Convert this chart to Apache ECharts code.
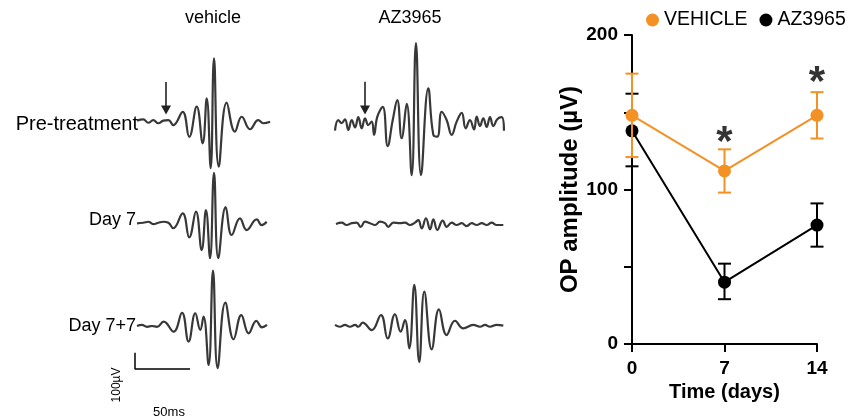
<!DOCTYPE html>
<html><head><meta charset="utf-8">
<script src="https://cdn.jsdelivr.net/npm/echarts@6/dist/echarts.min.js"></script>
<style>html,body{margin:0;padding:0;background:#fff}#c{width:848px;height:418px}</style>
</head><body><div id="c"></div>
<script>
// ---- Right panel data (OP amplitude, µV) ----
const days = [0, 7, 14];
const vehicleMean = [148, 112, 148];
const vehicleErrLow = [121, 98, 133];
const vehicleErrHigh = [175, 126, 163];
const azMean = [138, 40, 77];
const azErrLow = [115, 29, 63];
const azErrHigh = [162, 52, 91];
const sigMarks = [[7, 135], [14, 174]];
const yLabelValues = [0, 100, 200];

// ---- Left panel: OP waveform extremes, [time ms, amplitude µV] ----
const vehPre = [[0,4],[5.7,9],[10.3,-4],[14.8,6],[19.4,-6],[23.9,4],[28.5,6],[33,-13],[41.5,38],[47.5,-58],[54.3,58],[59.7,-83],[63.4,90],[67,-179],[70,244],[74.3,-173],[81.5,73],[89,-38],[95.2,19],[102.7,-29],[110.3,6],[114.8,-6],[121,0]];
const vehD7 = [[0,0],[5.7,2],[10.3,6],[14.8,-3],[19.4,2],[23.9,6],[28.5,2],[33,-19],[41.5,38],[47.5,-54],[53.6,45],[58.8,-103],[62.7,51],[66.4,-134],[70,194],[73.9,-134],[80.6,62],[86.1,-45],[93.6,19],[99.7,-26],[108.8,15],[113.4,-7],[117.9,6]];
const vehD77 = [[0,0],[4.5,4],[9.1,-3],[13.6,0],[18.2,-3],[24.2,17],[33.3,-22],[40.9,51],[46.9,-60],[53,49],[57.5,-15],[60.5,36],[65.1,-150],[69.1,213],[73.3,-162],[80.3,90],[87.8,-51],[94.8,42],[101.5,-28],[108.5,20],[113.6,-5],[118.2,4]];
const azPre = [[0,-22],[3,19],[6.1,7],[9.1,22],[12.1,-19],[15.2,19],[18.2,-9],[21.2,30],[24.3,-13],[27.3,26],[30.3,0],[33.4,13],[35.5,-38],[38.5,32],[43.4,70],[47.9,-81],[52.5,19],[56.6,96],[60.6,-51],[65.2,81],[69.7,-193],[73.6,315],[78.2,-193],[84.8,141],[89.4,-38],[93,-45],[97,51],[101.5,19],[106.1,-38],[110.6,13],[115.2,47],[118.8,-13],[122.7,19],[126.4,-17],[128.8,32],[131.8,-4],[134.8,26],[137.9,-7],[140.9,30],[143.9,-4],[147.5,22],[151.5,30],[153.6,-22]];
const azD7 = [[0,4],[5.2,9],[9.7,0],[14.3,7],[18.8,9],[22.5,-7],[26.4,13],[30.9,7],[35.5,0],[40,13],[44.5,7],[47.5,-7],[52.1,9],[58.2,7],[62.7,9],[67.3,0],[71.8,9],[74.8,19],[77.9,-13],[81.8,26],[85.5,-17],[88.5,22],[92.1,-19],[97,17],[100.6,-7],[105.2,9],[109.7,0],[114.3,7],[118.8,-4],[123.4,7],[127.9,0],[132.5,7],[137,0],[141.5,9],[146.1,0],[152.1,0]];
const azD77 = [[0,3],[4.5,-4],[9.1,3],[13.6,-4],[18.2,3],[21.2,-4],[25.2,12],[33.4,-17],[41.8,41],[47.9,-49],[54.5,44],[59.7,-23],[63.6,22],[67.5,-87],[72.1,157],[76.6,-140],[81.2,131],[87.9,-91],[94.5,63],[101.5,-36],[109.1,19],[116.6,-10],[125.7,3],[131.8,-4],[136.4,3],[140.9,-4],[147,3],[153,0]];
const scaleBar = [[0,100],[0,0],[50,0]];   // 100 µV / 50 ms
const vehArrow = [[26.4,153],[26.4,45]];
const azArrow = [[27.3,166],[27.3,58]];

// ---- layout (pixel placement of each trace panel) ----
const traceLayout = [
  {data: vehPre, left: 137, base: 121.7, arrow: vehArrow},
  {data: vehD7,  left: 137, base: 223.3},
  {data: vehD77, left: 137, base: 326},
  {data: azPre,  left: 335, base: 125, arrow: azArrow},
  {data: azD7,   left: 336, base: 225},
  {data: azD77,  left: 335, base: 325.7},
  {data: scaleBar, left: 135, base: 398, bar: true}
];

const FONT = '"Liberation Sans", Arial, sans-serif';
const ORANGE = '#F39125';

const grids = [{left: 632, top: 35, width: 185, height: 309}];
const xAxes = [{
  type: 'value', gridIndex: 0, min: 0, max: 14, interval: 7,
  axisLine: {lineStyle: {color: '#000', width: 2}},
  axisTick: {length: 8, lineStyle: {color: '#000', width: 2}},
  axisLabel: {color: '#000', fontSize: 19, fontWeight: 'bold', fontFamily: FONT, margin: 15},
  splitLine: {show: false},
  name: 'Time (days)', nameLocation: 'middle', nameGap: 37,
  nameTextStyle: {color: '#000', fontSize: 20, fontWeight: 'bold', fontFamily: FONT}
}];
const yAxes = [{
  type: 'value', gridIndex: 0, min: 0, max: 200, interval: 50,
  axisLine: {show: true, lineStyle: {color: '#000', width: 2}},
  axisTick: {show: true, length: 8, lineStyle: {color: '#000', width: 2}},
  axisLabel: {color: '#000', fontSize: 19, fontWeight: 'bold', fontFamily: FONT, margin: 14,
    formatter: v => yLabelValues.includes(v) ? String(v) : ''},
  splitLine: {show: false},
  name: 'OP amplitude (µV)', nameLocation: 'middle', nameGap: 42, nameRotate: 90,
  nameTextStyle: {color: '#000', fontSize: 24, fontWeight: 'bold', fontFamily: FONT}
}];

const series = [];
function errBars(low, high, color, z) {
  return {
    type: 'custom', xAxisIndex: 0, yAxisIndex: 0, z: z, clip: false,
    data: days.map((d, i) => [d, low[i], high[i]]),
    renderItem(params, api) {
      const x = api.value(0);
      const lo = api.coord([x, api.value(1)]);
      const hi = api.coord([x, api.value(2)]);
      const w = 6.5;
      const style = {stroke: color, lineWidth: 2, fill: null};
      return {type: 'group', children: [
        {type: 'line', shape: {x1: lo[0], y1: lo[1], x2: hi[0], y2: hi[1]}, style: style},
        {type: 'line', shape: {x1: lo[0] - w, y1: lo[1], x2: lo[0] + w, y2: lo[1]}, style: style},
        {type: 'line', shape: {x1: hi[0] - w, y1: hi[1], x2: hi[0] + w, y2: hi[1]}, style: style}
      ]};
    }
  };
}
series.push(errBars(azErrLow, azErrHigh, '#000', 2));
series.push({
  name: 'AZ3965', type: 'line', xAxisIndex: 0, yAxisIndex: 0, z: 3, clip: false,
  data: days.map((d, i) => [d, azMean[i]]),
  symbol: 'circle', symbolSize: 13,
  lineStyle: {color: '#000', width: 2}, itemStyle: {color: '#000'}
});
series.push(errBars(vehicleErrLow, vehicleErrHigh, ORANGE, 4));
series.push({
  name: 'VEHICLE', type: 'line', xAxisIndex: 0, yAxisIndex: 0, z: 5, clip: false,
  data: days.map((d, i) => [d, vehicleMean[i]]),
  symbol: 'circle', symbolSize: 13,
  lineStyle: {color: ORANGE, width: 2}, itemStyle: {color: ORANGE}
});
series.push({
  type: 'scatter', xAxisIndex: 0, yAxisIndex: 0, z: 6, symbolSize: 0, silent: true,
  data: sigMarks,
  label: {show: true, position: 'inside', formatter: '*', color: '#000',
    fontSize: 42, fontWeight: 'bold', fontFamily: FONT, offset: [0, 8]}
});

traceLayout.forEach((t, k) => {
  const gi = k + 1;
  grids.push({left: t.left, top: t.base - 78, width: 187, height: 156});
  xAxes.push({type: 'value', gridIndex: gi, min: 0, max: 170, show: false});
  yAxes.push({type: 'value', gridIndex: gi, min: -300, max: 300, show: false});
  const s = {
    type: 'line', xAxisIndex: gi, yAxisIndex: gi, data: t.data, clip: false,
    showSymbol: false, symbol: 'none', silent: true,
    smooth: t.bar ? false : 0.45,
    lineStyle: t.bar ? {color: '#000', width: 1.5} : {color: '#383838', width: 2.2}
  };
  if (t.arrow) {
    s.markLine = {
      silent: true, symbol: ['none', 'triangle'], symbolSize: [10, 9],
      label: {show: false},
      lineStyle: {color: '#222', width: 1.6, type: 'solid'},
      data: [[{coord: t.arrow[0]}, {coord: t.arrow[1]}]]
    };
  }
  series.push(s);
});

const txt = (x, y, text, opts) => Object.assign({
  type: 'text', x: x, y: y,
  style: Object.assign({text: text, fill: '#000', font: '18px ' + FONT, align: 'center', verticalAlign: 'middle'}, opts || {})
});
const graphic = [
  txt(213, 18, 'vehicle'),
  txt(410, 18, 'AZ3965'),
  txt(138, 124, 'Pre-treatment', {align: 'right', font: '20px ' + FONT}),
  txt(136, 220, 'Day 7', {align: 'right'}),
  txt(136, 326, 'Day 7+7', {align: 'right'}),
  Object.assign(txt(117, 385, '100µV', {font: '12px ' + FONT}), {rotation: Math.PI / 2}),
  txt(169, 412, '50ms', {font: '13px ' + FONT})
];

const chart = echarts.init(document.getElementById('c'), null, {renderer: 'canvas'});
chart.setOption({
  backgroundColor: '#fff',
  animation: false,
  legend: {
    data: ['VEHICLE', 'AZ3965'], left: 646, top: 10, padding: 0,
    icon: 'circle', itemWidth: 13, itemHeight: 13, itemGap: 12,
    textStyle: {color: '#000', fontSize: 19.5, fontFamily: FONT}
  },
  grid: grids, xAxis: xAxes, yAxis: yAxes, series: series, graphic: graphic
});
</script></body></html>
